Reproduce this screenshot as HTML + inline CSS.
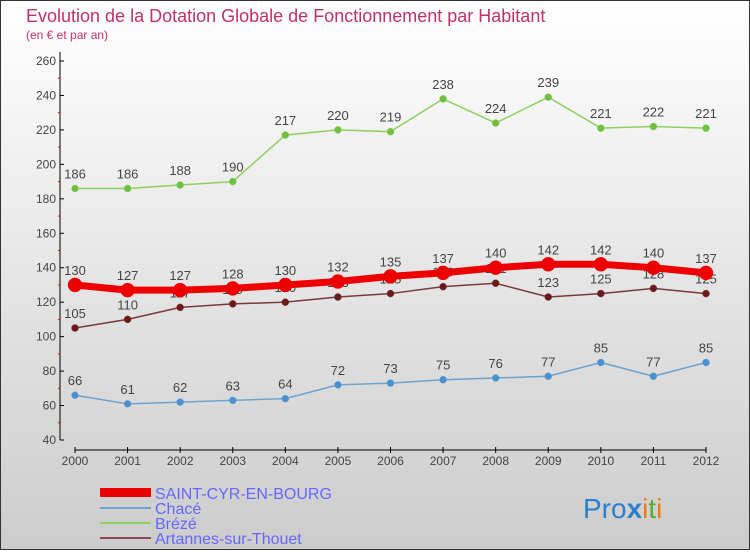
<!DOCTYPE html>
<html><head><meta charset="utf-8"><style>
body{margin:0;width:750px;height:550px;overflow:hidden;font-family:"Liberation Sans",sans-serif}
svg text{font-family:"Liberation Sans",sans-serif}
</style></head><body>
<svg id="c" width="750" height="550" xmlns="http://www.w3.org/2000/svg">
<defs><linearGradient id="bg" x1="0" y1="0" x2="0" y2="1"><stop offset="0" stop-color="#ffffff"/><stop offset="1" stop-color="#cccccc"/></linearGradient></defs>
<rect x="0.5" y="0.5" width="749" height="549" fill="url(#bg)" stroke="#333"/>
<text x="26" y="22" font-size="18" fill="#c2306a">Evolution de la Dotation Globale de Fonctionnement par Habitant</text>
<text x="26" y="39" font-size="12" fill="#c2306a">(en € et par an)</text>
<g id="axes"></g><g id="series"></g>
<g>
<rect x="100" y="488" width="51" height="9" fill="#e00"/>
<text x="155" y="499" font-size="16" fill="#6666ff">SAINT-CYR-EN-BOURG</text>
<line x1="100" y1="508" x2="151" y2="508" stroke="#6ea3cf" stroke-width="2"/>
<text x="155" y="514" font-size="16" fill="#6666ff">Chacé</text>
<line x1="100" y1="523" x2="151" y2="523" stroke="#8fcf60" stroke-width="2"/>
<text x="155" y="529" font-size="16" fill="#6666ff">Brézé</text>
<line x1="100" y1="538" x2="151" y2="538" stroke="#8a4a4a" stroke-width="2"/>
<text x="155" y="544" font-size="16" fill="#6666ff">Artannes-sur-Thouet</text>
</g>
<g font-size="28">
<text x="583" y="518"><tspan fill="#2a7fd0">Pro</tspan><tspan fill="#2a7fd0" font-weight="bold">x</tspan><tspan fill="#f07a10">i</tspan><tspan fill="#50b030">t</tspan><tspan fill="#f07a10">i</tspan></text>
</g>
</svg>
<script>
const years=[2000,2001,2002,2003,2004,2005,2006,2007,2008,2009,2010,2011,2012];
const yTicks=[40,60,80,100,120,140,160,180,200,220,240,260];
const saintCyr=[130,127,127,128,130,132,135,137,140,142,142,140,137];
const chace=[66,61,62,63,64,72,73,75,76,77,85,77,85];
const breze=[186,186,188,190,217,220,219,238,224,239,221,222,221];
const artannes=[105,110,117,119,120,123,125,129,131,123,125,128,125];
const NS="http://www.w3.org/2000/svg";
const X=i=>75+i*(706-75)/(years.length-1);
const Y=v=>440-(v-40)*(440-61)/220;
function mk(t,a,p){const e=document.createElementNS(NS,t);for(const k in a)e.setAttribute(k,a[k]);p.appendChild(e);return e;}
const ax=document.getElementById('axes');
const yl=mk('line',{x1:60,y1:52,x2:60,y2:440,stroke:'#000'},ax);


yTicks.forEach((v,i)=>{
 mk('line',{x1:60,y1:Y(v),x2:64,y2:Y(v),stroke:'#000'},ax);
 if(i<yTicks.length-1)mk('line',{x1:58,y1:Y(v+10),x2:60,y2:Y(v+10),stroke:'#e00'},ax);
 const t=mk('text',{x:56,y:Y(v)+4,'font-size':12,'text-anchor':'end',fill:'#444'},ax);t.textContent=v;
 
 
});
const xl=mk('line',{x1:75,y1:450,x2:706,y2:450,stroke:'#000'},ax);


years.forEach((y,i)=>{
 mk('line',{x1:X(i),y1:447,x2:X(i),y2:453,stroke:'#000'},ax);
 const t=mk('text',{x:X(i),y:465,'font-size':12,'text-anchor':'middle',fill:'#444'},ax);t.textContent=y;
 
 
});
const sg=document.getElementById('series');
function series(name,data,color,w,r,dot){
 const g=mk('g',{},sg);
 
 
 mk('polyline',{points:data.map((v,i)=>X(i)+','+Y(v)).join(' '),fill:'none',stroke:color,'stroke-width':w,'stroke-linejoin':'round'},g);
 data.forEach((v,i)=>{
  const c=mk('circle',{cx:X(i),cy:Y(v),r:r,fill:dot,stroke:color,'stroke-width':0.5},g);
  
  
  const t=mk('text',{x:X(i),y:Y(v)-10,'font-size':13,'text-anchor':'middle',fill:'#444'},g);t.textContent=v;
  
  
 });
}
series('artannes-series',artannes,'#7a3a3a',1.5,3.5,'#6a1a1a');
series('chace-series',chace,'#6ea3cf',1.5,3.5,'#4a90d0');
series('breze-series',breze,'#8fcf60',1.5,3.5,'#70c040');
series('saint-cyr-series',saintCyr,'#e00',7,7,'#e00');
</script>
</body></html>
